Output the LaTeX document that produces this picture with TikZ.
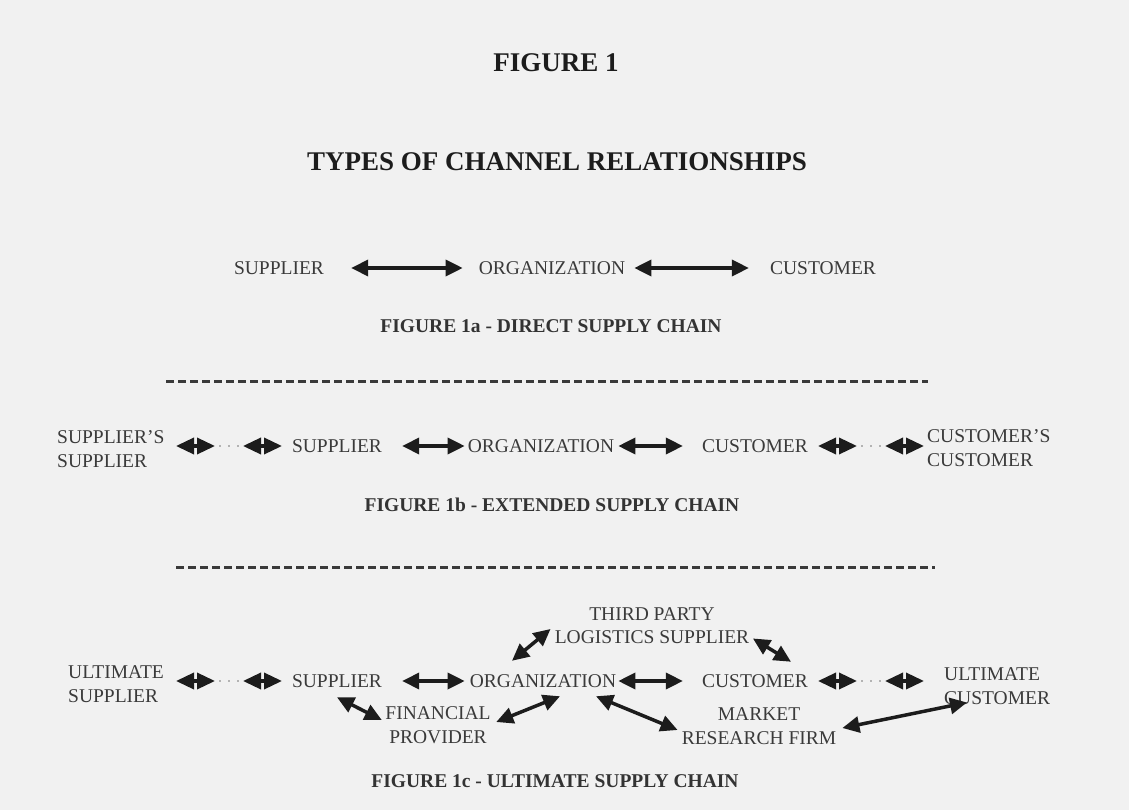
\documentclass[tikz,border=0pt]{standalone}
\usepackage{fontspec}
\setmainfont{Liberation Serif}
\usetikzlibrary{arrows.meta}
\definecolor{paper}{HTML}{F1F1F1}
\definecolor{ink}{HTML}{1C1C1C}
\definecolor{txt}{HTML}{3A3A3A}
\begin{document}
\begin{tikzpicture}[x=1pt,y=-1pt,
  lbl/.style={inner sep=0pt, text=txt, align=center, font=\fontsize{19.5}{23.5}\selectfont},
  title/.style={inner sep=0pt, text=ink, font=\bfseries\fontsize{27}{32}\selectfont},
  caption/.style={inner sep=0pt, text=ink!90, font=\bfseries\fontsize{19.5}{24}\selectfont},
  dbl/.style={draw=ink, line width=3.5pt, {Triangle[length=17pt,width=16pt]}-{Triangle[length=17pt,width=16pt]}},
  pair/.style={draw=ink, line width=3.5pt, {Triangle[length=18pt,width=16pt]}-{Triangle[length=18pt,width=16pt]}},
  dots/.style={draw=txt!70, line width=1.8pt, line cap=round, dash pattern=on 0pt off 9pt, shorten <=5pt},
  rule/.style={draw=txt, line width=3pt, dash pattern=on 8pt off 4pt}]
\fill[paper] (0,0) rectangle (1129,810);

\node[title] (fig) at (556,63) {FIGURE 1};
\node[title] (types) at (557,162) {TYPES OF CHANNEL RELATIONSHIPS};

\node[lbl] (sup1) at (279,268) {SUPPLIER};
\node[lbl] (org1) at (552,268) {ORGANIZATION};
\node[lbl] (cus1) at (823,268) {CUSTOMER};
\draw[dbl, shorten <=27pt, shorten >=16pt] (sup1) -- (org1);
\draw[dbl, shorten <=9pt, shorten >=21pt] (org1) -- (cus1);
\node[caption] (cap1a) at (551,326) {FIGURE 1a - DIRECT SUPPLY CHAIN};
\draw[rule] (166,381) -- (928,381);

\node[lbl, align=left, anchor=west] (ss) at (57,449) {SUPPLIER'S\\SUPPLIER};
\node[lbl] (sup2) at (337,446) {SUPPLIER};
\node[lbl] (org2) at (541,446) {ORGANIZATION};
\node[lbl] (cus2) at (755,446) {CUSTOMER};
\node[lbl, align=left, anchor=west] (cc) at (927,448) {CUSTOMER'S\\CUSTOMER};
\coordinate (b1) at (176,446); \coordinate (b2) at (215,446);
\coordinate (b3) at (243,446); \coordinate (b4) at (282,446);
\coordinate (b5) at (818,446); \coordinate (b6) at (857,446);
\coordinate (b7) at (885,446); \coordinate (b8) at (924,446);
\draw[pair] (b1) -- (b2);
\draw[dots, yshift=-3pt] (b2) -- (b3);
\draw[pair] (b3) -- (b4);
\draw[dbl, shorten <=20pt, shorten >=3pt] (sup2) -- (org2);
\draw[dbl, shorten <=4pt, shorten >=19pt] (org2) -- (cus2);
\draw[pair] (b5) -- (b6);
\draw[dots, yshift=-3pt] (b6) -- (b7);
\draw[pair] (b7) -- (b8);
\node[caption] (cap1b) at (552,505) {FIGURE 1b - EXTENDED SUPPLY CHAIN};
\draw[rule] (176,567) -- (935,567);

\node[lbl, align=left, anchor=west] (us) at (68,684) {ULTIMATE\\SUPPLIER};
\node[lbl] (sup3) at (337,681) {SUPPLIER};
\node[lbl] (org3) at (543,681) {ORGANIZATION};
\node[lbl] (cus3) at (755,681) {CUSTOMER};
\node[lbl, align=left, anchor=west] (uc) at (944,686) {ULTIMATE\\CUSTOMER};
\node[lbl] (tpl) at (652,625.5) {THIRD PARTY\\LOGISTICS SUPPLIER};
\node[lbl] (fin) at (438,725) {FINANCIAL\\PROVIDER};
\node[lbl] (mrf) at (759,726) {MARKET\\RESEARCH FIRM};
\coordinate (c1) at (176,681); \coordinate (c2) at (215,681);
\coordinate (c3) at (243,681); \coordinate (c4) at (282,681);
\coordinate (c5) at (818,681); \coordinate (c6) at (857,681);
\coordinate (c7) at (885,681); \coordinate (c8) at (924,681);
\draw[pair] (c1) -- (c2);
\draw[dots, yshift=-3pt] (c2) -- (c3);
\draw[pair] (c3) -- (c4);
\draw[dbl, shorten <=20pt, shorten >=5pt] (sup3) -- (org3);
\draw[dbl, shorten <=2pt, shorten >=19pt] (org3) -- (cus3);
\draw[pair] (c5) -- (c6);
\draw[dots, yshift=-3pt] (c6) -- (c7);
\draw[pair] (c7) -- (c8);
\draw[dbl] ([xshift=-31pt,yshift=13.5pt]org3.north) -- ([xshift=-4pt,yshift=-3.5pt]tpl.west);
\draw[dbl] ([xshift=3.5pt,yshift=5.5pt]tpl.south east) -- ([xshift=36pt,yshift=12.5pt]cus3.north);
\draw[dbl] ([yshift=-9.5pt]sup3.south) -- ([xshift=-3.5pt,yshift=5pt]fin.west);
\draw[dbl] ([xshift=5.5pt,yshift=3pt]fin.east) -- ([xshift=17pt,yshift=-8.5pt]org3.south);
\draw[dbl] ([xshift=53pt,yshift=-8.5pt]org3.south) -- ([xshift=-4pt,yshift=-4pt]mrf.west);
\draw[dbl] ([xshift=6pt,yshift=-2pt]mrf.east) -- ([xshift=23pt,yshift=2pt]uc.south west);
\node[caption] (cap1c) at (555,781) {FIGURE 1c - ULTIMATE SUPPLY CHAIN};
\end{tikzpicture}
\end{document}
